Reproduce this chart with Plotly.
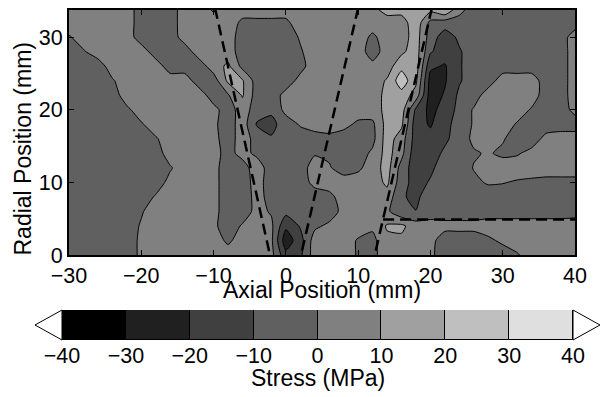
import plotly.graph_objects as go

# ---------------- data ----------------
axial_mm = list(range(-30, 41, 2))          # x grid (mm)
radial_mm = list(range(0, 35, 2))           # y grid (mm)

# stress (MPa), one row per radial position, columns follow axial_mm
stress_mpa = [
    # y = 0
    [-5, -5, -5, -5, -5, 2, 5, 5, 5, 5, 5, 5, 5, 5, 3, -17, -12, 5, 5, 5, -1, -4, 8, 5, 5, 2, -5, -5, -5, -5, -5, -1, 5, 5, 5, 5],
    # y = 2
    [-5, -5, -5, -5, -5, 2, 5, 5, 5, 5, 5, -2, 5, 5, 2, -26, -14, 5, 5, 5, -1, -3, 8, 8, 5, 3, -5, -5, -5, -2, 2, 5, 5, 5, 5, 5],
    # y = 4
    [-5, -5, -5, -5, -5, 1, 5, 5, 5, 5, 2, -5, 1, 5, 2, -18, -9, -2, 2, 5, 5, 2, 11, 12, 5, 4, 3, 3, 3, 5, 5, 5, 5, 5, 5, 5],
    # y = 6
    [-5, -5, -5, -5, -5, -1, 5, 5, 5, 5, 3, -5, -5, 3, -1, -7, -5, -5, -5, 3, 5, 5, 2, -8, -9.8, -5, -5, -5, -5, -5, -5, -5, -5, -5, -5, -4],
    # y = 8
    [-5, -5, -5, -5, -5, -5, 1, 5, 5, 5, 3, -5, -5, 3, -3, -5, -5, -5, -3, 5, 5, 5, 6, -9, -12, -5, -5, -5, -5, -5, -5, -5, -5, -5, -5, -5],
    # y = 10
    [-5, -5, -5, -5, -5, -5, -5, 3, 5, 5, 3, -5, -5, 4, -5, -5, -5, 3, 5, 5, 5, 5, 12, -6, -14, -9, -5, -5, -2, 1, 0.5, -1, -2, -3, -3, -3],
    # y = 12
    [-5, -5, -5, -5, -5, -5, -5, -1, 5, 5, 3, -5, -4, 5, -5, -5, -5, 5, 1, -5, -2, 5, 14, -4, -16, -12, -5, -5, 0.5, 5, 5, 5, 5, 5, 5, 5],
    # y = 14
    [-5, -5, -5, -5, -5, -5, -5, 5, 5, 5, 3, -3, 3, -2, -5, -5, -5, -1, -2, -5, -5, 2, 14, 3, -17, -15, -8, -5, -1, 1, -2, -1, 3, 5, 5, 5],
    # y = 16
    [-5, -5, -5, -5, -5, -5, -1, 5, 5, 5, 3, -5, 5, -4, -9, -5, -5, -5, -3, -5, -5, -3, 15, 5, -15, -17, -12, -5, 2, 3, 1, -5, -5, 3, 5, 5],
    # y = 18
    [-5, -5, -5, -5, -5, -1, 5, 5, 5, 5, 2, -5, 5, -11, -13, -5, 1, 5, 5, 3, -2, -2, 14, 12, -16, -21, -13, -6, 1, 5, 5, -1, -5, -5, -5, -5],
    # y = 20
    [-5, -5, -5, -5, -2, 5, 5, 5, 5, 5, 3, -5, 5, -5, -8, 3, 5, 5, 5, 5, 5, 5, 13, 15, -12, -23, -16, -7, 1, 5, 5, 5, -1, -5, -5, 3],
    # y = 22
    [-5, -5, -5, -5, 5, 5, 5, 5, 5, 5, -5, -1, 11, -5, -5, 3, 5, 5, 5, 5, 5, 5, 13, 16, 6, -25, -19, -8, -5, 5, 5, 5, 5, -5, -5, 5],
    # y = 24
    [-5, -5, -5, -1, 5, 5, 5, 5, 5, -5, -5, 12, 11, -5, -5, -5, 3, 5, 5, 5, 5, 5, 11, 26, 12, -24, -21, -11, -5, -5, 5, 5, 5, -5, -5, 5],
    # y = 26
    [-5, -5, -5, 5, 5, 5, 5, -5, -5, -5, 5, 12, -3, -5, -5, -5, -3, 5, 5, 5, 5, 3, 5, 17, 15, -18, -21, -11, -5, -5, -5, -5, -5, -5, -5, 5],
    # y = 28
    [-5, -1, 5, 5, 5, 5, -5, -5, -5, 5, 5, 5, -5, -5, -5, -5, -1, 5, 5, 5, 5, -5, 5, 8, 15, -9, -15, -11, -5, -5, -5, -5, -5, -5, -5, 5],
    # y = 30
    [-1, 5, 5, 5, 5, -5, -5, -5, 4, 5, 5, 5, -5, -5, -5, -5, 1, 5, 5, 5, 5, -2, 5, 5, 15, -5, -15, -8, -5, -5, -5, -5, -5, -5, -5, 5],
    # y = 32
    [5, 5, 5, 5, 5, -5, -5, -5, 5, 5, 5, 5, -2, -2, -2, -2, 5, 5, 5, 5, 5, 5, 5, 5, 17, -3, -5, -5, -5, -5, -5, -5, -5, -5, -5, -5],
    # y = 34
    [5, 5, 5, 5, 5, -5, -5, -5, 5, 5, -2, 5, 5, 5, 5, 5, 5, 5, 5, 5, 5, 8, 15, 15, 15, 15, 23, 5, -5, -5, -5, -5, -5, -5, -5, -5],
]

level_ticks = [-40, -30, -20, -10, 0, 10, 20, 30, 40]
band_colors = ["#000000", "#202020", "#404040", "#606060",
               "#808080", "#a0a0a0", "#bfbfbf", "#dfdfdf"]

# dashed weld / geometry outlines (axial, radial)
outline_x = [[-9.8, -2.2], [10.0, 2.1], [20.2, 12.3], [13.45, 40.0]]
outline_y = [[34.0, 0.0], [34.0, 0.0], [34.0, 0.0], [4.9, 4.9]]

x_ticks = [-30, -20, -10, 0, 10, 20, 30, 40]
y_ticks = [0, 10, 20, 30]

# ---------------- layout geometry (pixels of the 603x397 page) ----------------
W, H = 603, 397
plot_l, plot_r, plot_t, plot_b = 69, 575, 9.5, 255
cb_l, cb_r, cb_t, cb_b = 62, 573, 310, 340
font_family = "Liberation Sans, Arial, Helvetica, sans-serif"

def fx(px):
    return px / W

def fy(py):
    return (H - py) / H

# colour map: plotly evaluates band colours at band centres spread over
# [start - step/2, end + step/2]
stops = [band_colors[0]] + band_colors + [band_colors[-1]]
colorscale = [[i / (len(stops) - 1), c] for i, c in enumerate(stops)]

fig = go.Figure()
fig.add_trace(go.Contour(
    x=axial_mm, y=radial_mm, z=stress_mpa,
    colorscale=colorscale, showscale=False,
    contours=dict(start=level_ticks[0], end=level_ticks[-1],
                  size=level_ticks[1] - level_ticks[0],
                  coloring="fill", showlines=True),
    line=dict(color="black", width=1, smoothing=0.6),
    hoverinfo="skip",
))

for xs, ys in zip(outline_x, outline_y):
    fig.add_trace(go.Scatter(
        x=xs, y=ys, mode="lines",
        line=dict(color="black", width=2.5, dash="11px,6px"),
        hoverinfo="skip", showlegend=False,
    ))

# colour bar drawn as a bar strip on its own axes
band_centers = [(a + b) / 2 for a, b in zip(level_ticks[:-1], level_ticks[1:])]
band_widths = [b - a for a, b in zip(level_ticks[:-1], level_ticks[1:])]
fig.add_trace(go.Bar(
    x=band_centers, y=[1] * len(band_centers), width=band_widths,
    marker=dict(color=band_colors, line=dict(color="black", width=1)),
    xaxis="x2", yaxis="y2", hoverinfo="skip", showlegend=False,
))

# triangular end caps of the colour bar
cb_mid = (cb_t + cb_b) / 2
shapes = []
for base, tip in ((cb_l, cb_l - 27), (cb_r, cb_r + 27)):
    shapes.append(dict(
        type="path", xref="paper", yref="paper",
        path=(f"M {fx(base)} {fy(cb_t)} L {fx(tip)} {fy(cb_mid)} "
              f"L {fx(base)} {fy(cb_b)} Z"),
        fillcolor="white", line=dict(color="black", width=1),
    ))

tick_font = dict(family=font_family, size=21.5, color="black")
title_font = dict(family=font_family, size=23, color="black")

fig.update_layout(
    width=W, height=H,
    margin=dict(l=0, r=0, t=0, b=0),
    paper_bgcolor="white", plot_bgcolor="white",
    showlegend=False, bargap=0,
    font=dict(family=font_family, color="black"),
    shapes=shapes,
    annotations=[
        dict(text="Axial Position (mm)", xref="paper", yref="paper",
             x=fx(322), y=fy(290), xanchor="center", yanchor="middle",
             showarrow=False, font=title_font),
        dict(text="Radial Position (mm)", xref="paper", yref="paper",
             x=fx(22), y=fy(149.5), xanchor="center", yanchor="middle",
             textangle=-90, showarrow=False, font=title_font),
        dict(text="Stress (MPa)", xref="paper", yref="paper",
             x=fx(318), y=fy(378), xanchor="center", yanchor="middle",
             showarrow=False, font=title_font),
    ],
    xaxis=dict(domain=[fx(plot_l), fx(plot_r)], range=[-30, 40],
               tickvals=x_ticks, ticks="inside", ticklen=5,
               tickcolor="black", showline=True, linewidth=2, linecolor="black",
               mirror="ticks", showgrid=False, zeroline=False,
               automargin=False, tickfont=tick_font),
    yaxis=dict(domain=[fy(plot_b), fy(plot_t)], range=[0, 33.8],
               tickvals=y_ticks, ticks="inside", ticklen=5,
               tickcolor="black", showline=True, linewidth=2, linecolor="black",
               mirror="ticks", showgrid=False, zeroline=False,
               automargin=False, tickfont=tick_font),
    xaxis2=dict(domain=[fx(cb_l), fx(cb_r)], range=[level_ticks[0], level_ticks[-1]],
                anchor="y2", tickvals=level_ticks, ticks="", showline=False,
                showgrid=False, zeroline=False, automargin=False,
                tickfont=tick_font, fixedrange=True),
    yaxis2=dict(domain=[fy(cb_b), fy(cb_t)], range=[0, 1], anchor="x2",
                visible=False, fixedrange=True),
)

fig.write_html("out.html")
